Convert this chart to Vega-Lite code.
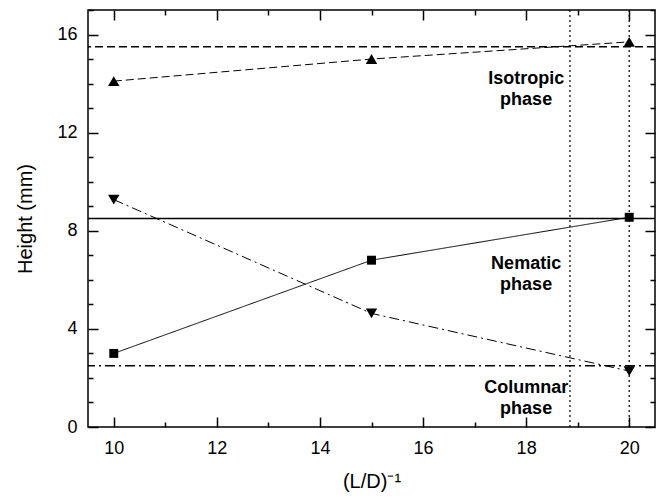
{
  "$schema": "https://vega.github.io/schema/vega-lite/v6.json",
  "width": 567,
  "height": 417,
  "autosize": "none",
  "padding": {"left": 88, "top": 10, "right": 5, "bottom": 72},
  "background": "white",
  "config": {
    "font": "Liberation Sans",
    "view": {"stroke": "black", "strokeWidth": 1.5},
    "axis": {
      "domain": false,
      "grid": false,
      "tickColor": "black",
      "tickWidth": 1.5,
      "labelFont": "Liberation Sans",
      "labelFontSize": 18,
      "labelColor": "black",
      "titleFont": "Liberation Sans",
      "titleFontSize": 20,
      "titleFontWeight": "normal",
      "titleColor": "black"
    }
  },
  "datasets": {
    "points": [
      {"series": "iso", "x": 10, "y": 14.1},
      {"series": "iso", "x": 15, "y": 15.0},
      {"series": "iso", "x": 20, "y": 15.7},
      {"series": "nem", "x": 10, "y": 3.0},
      {"series": "nem", "x": 15, "y": 6.8},
      {"series": "nem", "x": 20, "y": 8.55},
      {"series": "col", "x": 10, "y": 9.27},
      {"series": "col", "x": 15, "y": 4.63},
      {"series": "col", "x": 20, "y": 2.28}
    ],
    "hlines": [
      {"y": 15.5, "style": "dash"},
      {"y": 8.5, "style": "solid"},
      {"y": 2.5, "style": "dashdot"}
    ],
    "vlines": [{"x": 18.85}, {"x": 20}],
    "labels": [
      {"x": 18, "y": 14.2, "text": "Isotropic\nphase"},
      {"x": 18, "y": 6.65, "text": "Nematic\nphase"},
      {"x": 18, "y": 1.6, "text": "Columnar\nphase"}
    ]
  },
  "layer": [
    {
      "data": {"name": "hlines"},
      "mark": {"type": "rule", "color": "black", "strokeWidth": 1.5},
      "encoding": {
        "y": {
          "field": "y", "type": "quantitative",
          "scale": {"domain": [0, 17], "nice": false, "zero": false},
          "axis": {
            "orient": "left",
            "title": "Height (mm)",
            "titlePadding": 21,
            "values": [0,1,2,3,4,5,6,7,8,9,10,11,12,13,14,15,16,17],
            "labelExpr": "datum.value % 4 == 0 ? datum.label : ''",
            "tickSize": {"condition": {"test": "datum.value % 4 == 0", "value": -10}, "value": -5},
            "labelPadding": 21
          }
        },
        "strokeDash": {
          "field": "style", "type": "nominal",
          "scale": {"domain": ["dash", "solid", "dashdot"], "range": [[8, 4], [1, 0], [10, 4, 2, 4]]},
          "legend": null
        }
      }
    },
    {
      "data": {"name": "vlines"},
      "mark": {"type": "rule", "color": "black", "strokeWidth": 1.2, "strokeDash": [2, 3]},
      "encoding": {
        "x": {
          "field": "x", "type": "quantitative",
          "scale": {"domain": [9.5, 20.5], "nice": false, "zero": false},
          "axis": {
            "orient": "bottom",
            "title": "(L/D)⁻¹",
            "titlePadding": 14,
            "values": [10,11,12,13,14,15,16,17,18,19,20],
            "labelExpr": "datum.value % 2 == 0 ? datum.label : ''",
            "tickSize": {"condition": {"test": "datum.value % 2 == 0", "value": -10}, "value": -5},
            "labelPadding": 22
          }
        }
      }
    },
    {
      "data": {"name": "points"},
      "mark": {"type": "line", "color": "black", "strokeWidth": 1},
      "encoding": {
        "x": {
          "field": "x", "type": "quantitative",
          "scale": {"domain": [9.5, 20.5], "nice": false, "zero": false},
          "axis": {
            "orient": "top", "title": null, "labels": false,
            "values": [10,11,12,13,14,15,16,17,18,19,20],
            "tickSize": {"condition": {"test": "datum.value % 2 == 0", "value": -10}, "value": -5}
          }
        },
        "y": {
          "field": "y", "type": "quantitative",
          "scale": {"domain": [0, 17], "nice": false, "zero": false},
          "axis": {
            "orient": "right", "title": null, "labels": false,
            "values": [0,1,2,3,4,5,6,7,8,9,10,11,12,13,14,15,16,17],
            "tickSize": {"condition": {"test": "datum.value % 4 == 0", "value": -10}, "value": -5}
          }
        },
        "detail": {"field": "series", "type": "nominal"},
        "strokeDash": {
          "field": "series", "type": "nominal",
          "scale": {"domain": ["iso", "nem", "col"], "range": [[5, 3], [1, 0], [6, 3, 2, 3]]},
          "legend": null
        }
      }
    },
    {
      "data": {"name": "points"},
      "transform": [{"filter": "datum.series == 'iso'"}],
      "mark": {"type": "point", "shape": "triangle-up", "size": 130, "filled": true, "color": "black", "opacity": 1},
      "encoding": {
        "x": {"field": "x", "type": "quantitative", "scale": {"domain": [9.5, 20.5], "nice": false, "zero": false}, "axis": null},
        "y": {"field": "y", "type": "quantitative", "scale": {"domain": [0, 17], "nice": false, "zero": false}, "axis": null}
      }
    },
    {
      "data": {"name": "points"},
      "transform": [{"filter": "datum.series == 'nem'"}],
      "mark": {"type": "point", "shape": "square", "size": 80, "filled": true, "color": "black", "opacity": 1},
      "encoding": {
        "x": {"field": "x", "type": "quantitative", "scale": {"domain": [9.5, 20.5], "nice": false, "zero": false}, "axis": null},
        "y": {"field": "y", "type": "quantitative", "scale": {"domain": [0, 17], "nice": false, "zero": false}, "axis": null}
      }
    },
    {
      "data": {"name": "points"},
      "transform": [{"filter": "datum.series == 'col'"}],
      "mark": {"type": "point", "shape": "triangle-down", "size": 130, "filled": true, "color": "black", "opacity": 1},
      "encoding": {
        "x": {"field": "x", "type": "quantitative", "scale": {"domain": [9.5, 20.5], "nice": false, "zero": false}, "axis": null},
        "y": {"field": "y", "type": "quantitative", "scale": {"domain": [0, 17], "nice": false, "zero": false}, "axis": null}
      }
    },
    {
      "data": {"name": "labels"},
      "mark": {"type": "text", "font": "Liberation Sans", "fontSize": 18, "fontWeight": "bold", "color": "black", "align": "center", "baseline": "middle", "lineBreak": "\n", "lineHeight": 21},
      "encoding": {
        "x": {"field": "x", "type": "quantitative", "scale": {"domain": [9.5, 20.5], "nice": false, "zero": false}, "axis": null},
        "y": {"field": "y", "type": "quantitative", "scale": {"domain": [0, 17], "nice": false, "zero": false}, "axis": null},
        "text": {"field": "text"}
      }
    }
  ],
  "resolve": {"axis": {"x": "independent", "y": "independent"}}
}
